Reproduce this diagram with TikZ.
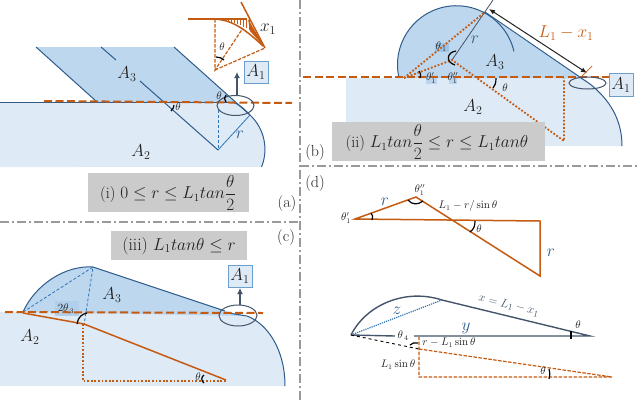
\documentclass[tikz,border=0pt]{standalone}
\usepackage{tikz}
\usetikzlibrary{arrows.meta}
\definecolor{lightb}{HTML}{DEEAF6}
\definecolor{darkb}{HTML}{BDD7EE}
\definecolor{highb}{HTML}{9DC3E6}
\definecolor{navy}{HTML}{2F5C8A}
\definecolor{slate}{HTML}{44546A}
\definecolor{thinb}{HTML}{2E75B6}
\definecolor{orng}{HTML}{C55A11}
\definecolor{capgray}{HTML}{CCCBCB}
\definecolor{rule}{HTML}{9A9A9A}
\definecolor{ink}{HTML}{222222}
\begin{document}
\begin{tikzpicture}[x=1pt,y=-1pt,text=ink,
   cutline/.style={orng,line width=2pt,dash pattern=on 8pt off 3.5pt},
   dots/.style={orng,line width=1.8pt,dash pattern=on 1.8pt off 1.8pt},
   solidline/.style={orng,line width=1.5pt},
   dashline/.style={orng,line width=1.2pt,dash pattern=on 3.5pt off 1.5pt},
   edge/.style={navy,line width=1pt},
   thinline/.style={thinb,line width=0.8pt},
   anglemark/.style={black,line width=1.2pt},
   sepline/.style={rule,line width=1.1pt,dash pattern=on 9pt off 3pt on 2pt off 3pt},
   lens/.style={slate,line width=1pt},
   uparrow/.style={slate,line width=1.4pt,-{Latex[length=6pt,width=6pt]}},
   areabox/.style={draw=thinb!70,fill=lightb,line width=1pt,minimum width=24pt,minimum height=22pt,inner sep=0pt},
   big/.style={font=\fontsize{18}{18}\selectfont},
   mid/.style={font=\fontsize{16}{16}\selectfont},
   tiny/.style={font=\fontsize{10.5}{10.5}\selectfont}]
   \useasboundingbox (0,0) rectangle (640,400);
   % separators
   \draw[sepline] (300,0) -- (300,400);
   \draw[sepline] (0,222) -- (300,222);
   \draw[sepline] (300,166) -- (640,166);
   % panel a
   \fill[lightb] (0,102) -- (232,102) -- (250,115) arc[start angle=-47,end angle=22,radius=47] -- (0,167) -- cycle;
   \fill[darkb] (36,47) -- (174,47) -- (248,113) -- (232,102) -- (97,102) -- cycle;
   \draw[edge] (0,102) -- (232,102);
   \draw[edge] (36,47) -- (97,102);
   \draw[edge] (101,47) -- (116,60);
   \draw[edge] (140,81) -- (218,150);
   \draw[edge] (174,47) -- (250,115);
   \draw[edge] (232,102) .. controls (240,104) and (245,110) .. (250,115) arc[start angle=-47,end angle=22,radius=47];
   \draw[thinline,densely dashed] (218,110) -- (218,150);
   \draw[thinline] (218,150) -- (250,115);
   \draw[cutline] (44,101) -- (292,103);
   \draw[lens] (235.5,105.5) ellipse (18.5 and 10);
   \draw[uparrow] (237,95) -- (237,72);
   \draw[anglemark] (171,111) .. controls (173,109) and (174,107) .. (174,105);
   \draw[anglemark] (226,95) .. controls (224,97) and (224,100) .. (226,102);
   % inset of panel a
   \draw[solidline] (188,19) -- (247,19);
   \draw[solidline] (241,2) -- (265,48);
   \draw[solidline] (215,19) .. controls (228,20) and (240,24) .. (263,46);
   \foreach \xx/\yy in {222/20,225/21,228/22,231/22,234/23,237/24,240/25,243/27,246/28,249/30}
      \draw[orng,line width=0.7pt] (\xx,19) -- (\xx,\yy);
   \fill[orng] (250,31) -- (248,19) -- (265,48) -- cycle;
   \draw[dashline] (215,19) -- (215,70) -- (243,28);
   \draw[dashline] (215,70) -- (265,48);
   \draw[anglemark] (216,57) .. controls (219,57) and (222,58) .. (224,60);
   \draw (222,47) node[tiny]{$\theta$};
   \draw (268,29) node[big]{$x_1$};
   \node[areabox] (boxa) at (256,72) {\fontsize{18}{18}\selectfont$A_1$};
   \draw (127,74) node[big]{$A_3$};
   \draw (141,152) node[big]{$A_2$};
   \draw (240,135) node[big,text=navy]{$r$};
   \draw (178,107) node[tiny]{$\theta$};
   \draw (219,96) node[tiny]{$\theta$};
   \fill[capgray] (88,173) rectangle (249,212);
   \draw (168,193) node[mid]{(i) $0\leq r\leq L_1 tan\displaystyle\frac{\theta}{2}$};
   \draw (287,204) node[mid]{(a)};
   % panel b
   \fill[lightb] (346,78) -- (578,78) -- (590,84) .. controls (610,100) and (622,120) .. (622,146) -- (346,146) -- cycle;
   \fill[darkb] (399,78) arc[start angle=167,end angle=298,radius=59] -- (590,84) -- (578,78) -- cycle;
   \draw[edge] (399,78) arc[start angle=167,end angle=347,radius=59];
   \draw[edge] (485,12) -- (590,84) .. controls (610,100) and (622,120) .. (622,146);
   \fill[highb] (435,43) rectangle (449,52);
   \fill[highb!70] (426,73) rectangle (437,84);
   \fill[highb!70] (449,73) rectangle (457,84);
   \draw[slate,line width=0.8pt] (452,60) -- (493,0);
   \draw[dots] (404,78) -- (485,12);
   \draw[dots] (404,78) -- (452,60) -- (564,141) -- (564,78);
   \draw[cutline] (303,77) -- (610,77);
   \draw[ink,line width=1pt,{Latex[length=6pt,width=5pt]}-{Latex[length=6pt,width=5pt]}] (489,9) -- (587,73);
   \draw[orng,line width=0.7pt] (582,76) -- (592,66);
   \draw[lens] (587.5,83) ellipse (18.5 and 6);
   \draw[anglemark] (456,51) .. controls (447,52) and (445,62) .. (455,65);
   \draw[anglemark] (419,71) .. controls (421,74) and (421,76) .. (420,78);
   \draw[anglemark] (496,78) .. controls (496,83) and (495,86) .. (493,88);
   \node[areabox,minimum height=23pt] (boxb) at (621,85) {\fontsize{18}{18}\selectfont$A_1$};
   \draw (566,33) node[font=\fontsize{17.5}{17.5}\selectfont,text=orng]{$L_1-x_1$};
   \draw (475,40) node[big,text=navy]{$r$};
   \draw (495,62) node[big]{$A_3$};
   \draw (473,107) node[big]{$A_2$};
   \draw (441,47) node[tiny]{$\theta_{\,1}$};
   \draw (431,78) node[tiny]{$\theta_1'$};
   \draw (453,78) node[tiny]{$\theta_1''$};
   \draw (505,88) node[tiny]{$\theta$};
   \fill[capgray] (332,122) rectangle (545,161);
   \draw (437,142) node[mid]{(ii) $L_1 tan\displaystyle\frac{\theta}{2}\leq r\leq L_1 tan\theta$};
   \draw (315,153) node[mid]{(b)};
   % panel c
   \fill[lightb] (0,312) -- (225,312) -- (247,316) .. controls (268,324) and (285,350) .. (285,386) -- (0,386) -- cycle;
   \fill[darkb] (23,312) .. controls (35,285) and (65,265) .. (93,267) -- (225,311) -- (247,316) -- cycle;
   \draw[edge] (23,312) .. controls (35,285) and (65,265) .. (93,267) -- (225,311);
   \draw[edge] (228,313) -- (247,316) .. controls (268,324) and (285,350) .. (285,386);
   \fill[highb!80] (55,301) rectangle (79,316);
   \draw[thinline,densely dashed] (23,312) -- (93,267) -- (84,325);
   \draw[solidline] (23,313) -- (84,324) -- (226,380);
   \draw[dots] (83,324) -- (83,381) -- (226,381);
   \draw[cutline] (5,312) -- (263,313);
   \draw[lens] (238,315.5) ellipse (19 and 10.5);
   \draw[uparrow] (240,305) -- (240,288);
   \draw[anglemark] (77,324) .. controls (78,317) and (82,314) .. (87,313);
   \draw[anglemark] (204,375) .. controls (201,377) and (201,381) .. (204,383);
   \node[areabox] (boxc) at (240,276) {\fontsize{18}{18}\selectfont$A_1$};
   \draw (30,337) node[big]{$A_2$};
   \draw (112,295) node[big]{$A_3$};
   \draw (66,309) node[tiny]{$2\theta_{\,3}$};
   \draw (198,377) node[tiny]{$\theta$};
   \fill[capgray] (111,231) rectangle (247,260);
   \draw (179,246) node[font=\fontsize{17.5}{17.5}\selectfont]{(iii) $L_1 tan\theta\leq r$};
   \draw (286,238) node[mid]{(c)};
   % panel d
   \draw[solidline] (355,219) -- (416,197) -- (540,276) -- (540,221) -- cycle;
   \draw[anglemark] (371,213) .. controls (373,215) and (373,217) .. (372,220);
   \draw[anglemark] (408,200) .. controls (412,205) and (418,205) .. (423,201);
   \draw[anglemark] (475,221) .. controls (475,226) and (474,229) .. (470,232);
   \draw (346,218) node[tiny]{$\theta_1'$};
   \draw (420,190) node[tiny]{$\theta_1''$};
   \draw (385,202) node[big,text=navy]{$r$};
   \draw (551,253) node[big,text=navy]{$r$};
   \draw (468,206) node[tiny]{$L_1-r/\sin\theta$};
   \draw (479,229) node[tiny]{$\theta$};
   \draw (315,184) node[mid]{(d)};
   \draw[slate,line width=1.4pt] (351,335) .. controls (366,305) and (405,288) .. (442,300) -- (590,336) -- (414,336);
   \draw[slate,line width=1.4pt] (351,335) -- (395,336);
   \draw[thinb,line width=1.2pt,densely dotted] (351,335) -- (442,300);
   \draw[black,line width=0.9pt,dashed] (351,335) -- (419,349);
   \draw[dashline] (419,349) -- (612,377) -- (419,377) -- (419,337);
   \draw[anglemark] (571,331) -- (571,339);
   \draw[anglemark] (410,345) .. controls (412,343) and (415,342) .. (418,343);
   \draw[anglemark] (549,369) .. controls (550,372) and (550,376) .. (549,379);
   \draw (397,311) node[mid,text=navy]{$z$};
   \draw (466,328) node[big,text=navy]{$y$};
   \draw (509,305) node[rotate=-14,font=\fontsize{13}{13}\selectfont,text=slate]{$x=L_1-x_1$};
   \draw (578,325) node[tiny]{$\theta$};
   \draw (403,336) node[tiny]{$\theta_{\,4}$};
   \draw (449,343) node[tiny]{$r-L_1\sin\theta$};
   \draw (398,365) node[tiny]{$L_1\sin\theta$};
   \draw (543,371) node[tiny]{$\theta$};
  \end{tikzpicture}
\end{document}
